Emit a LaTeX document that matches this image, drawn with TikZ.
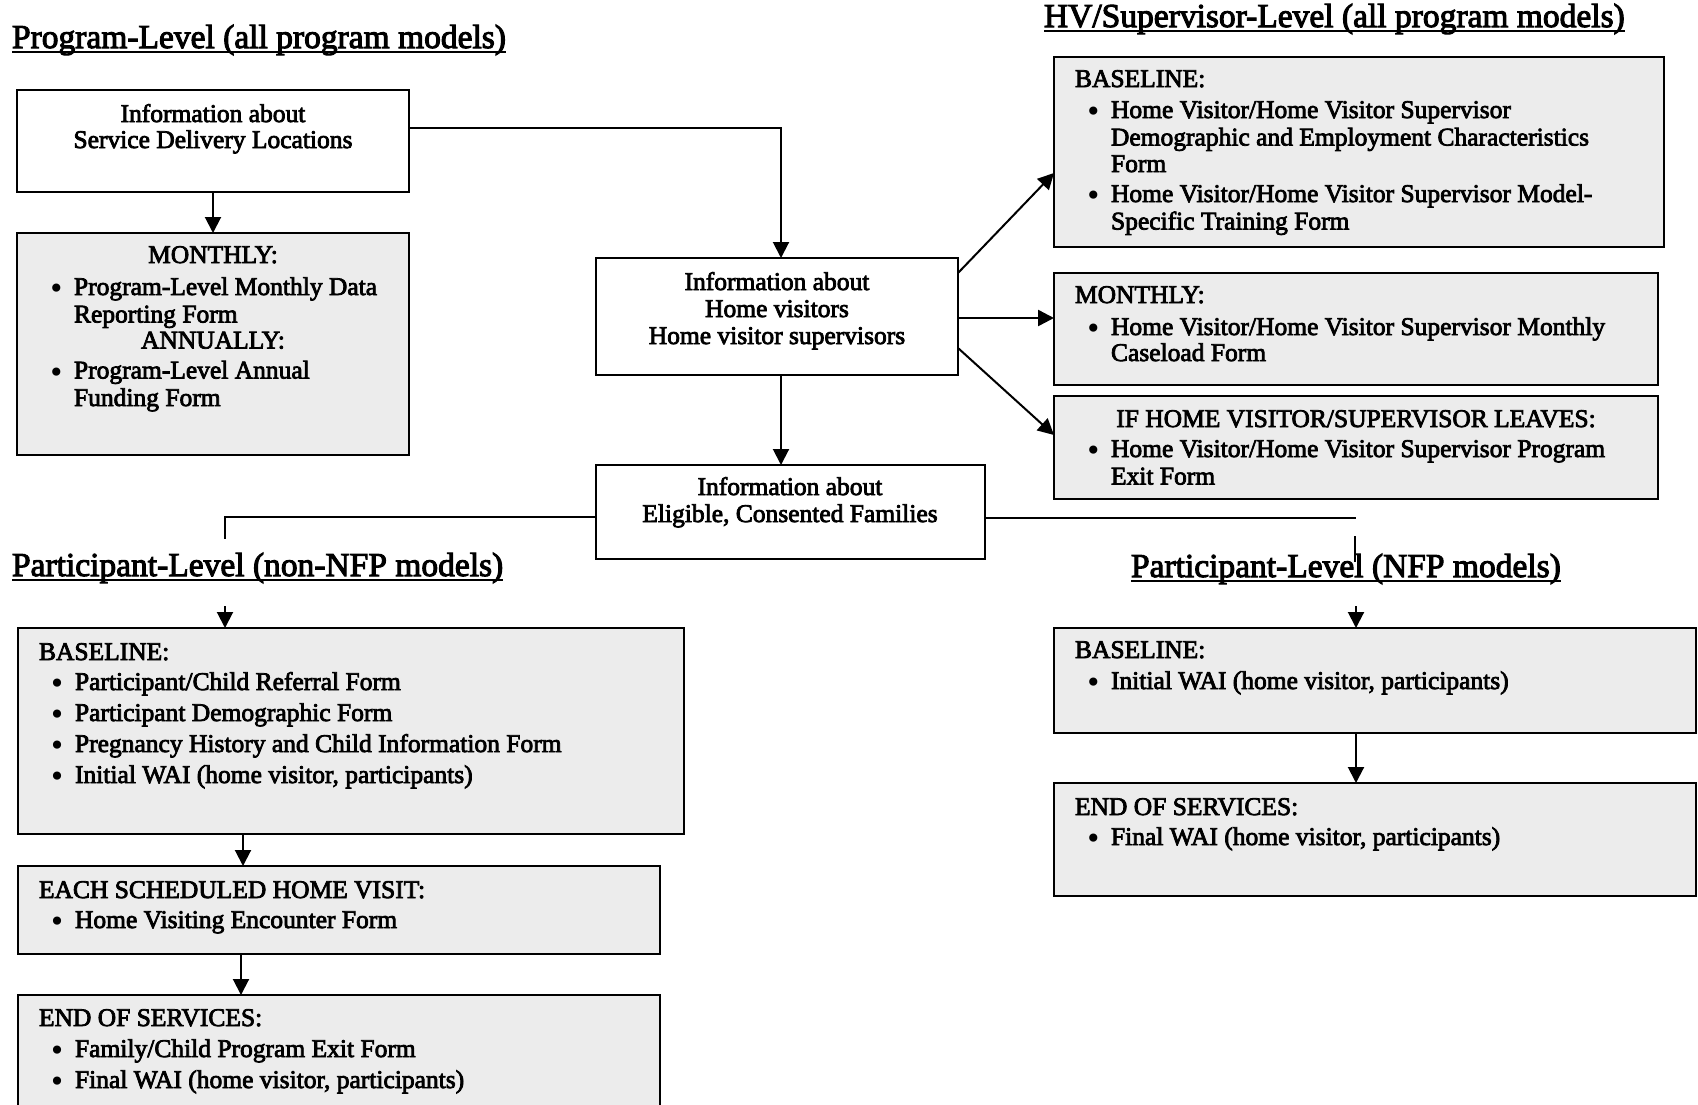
\documentclass[tikz,border=0pt]{standalone}
\usepackage{fontspec}
\setmainfont{Liberation Serif}[FakeBold=3]
\newfontfamily\bulfont{DejaVu Sans}
\usetikzlibrary{arrows.meta,calc}
\definecolor{boxgray}{RGB}{236,236,236}
\newcommand{\tl}{\hspace*{21pt}}
\newcommand{\bigbul}{\raisebox{-3.5pt}{\bulfont\fontsize{28}{28}\selectfont\char"2022}}
\newcommand{\bu}{\hspace*{31pt}\makebox[26pt][l]{\bigbul}}
\newcommand{\ct}{\hspace*{57pt}}
\newcommand{\tb}[2]{\parbox[t]{#1}{\raggedright\fontsize{25.5}{27.5}\selectfont #2}}
\newcommand{\tc}[2]{\parbox[t]{#1}{\centering\fontsize{25.5}{27}\selectfont #2}}
\tikzset{
  wbox/.style={draw=black, line width=2pt, fill=white, anchor=north west, inner sep=0pt, outer sep=0pt},
  gbox/.style={wbox, fill=boxgray},
  txt/.style={anchor=base west, inner sep=0pt, outer sep=0pt},
  ctxt/.style={anchor=base, inner sep=0pt, outer sep=0pt},
  ttl/.style={anchor=base west, inner sep=0pt, outer sep=0pt, font=\fontsize{33.5}{40}\selectfont},
  uline/.style={line width=2pt},
  conn/.style={line width=2pt, -{Triangle[length=16pt,width=16pt]}},
  plain/.style={line width=2pt},
}
\begin{document}
\begin{tikzpicture}[x=1pt,y=-1pt]
\useasboundingbox (0,0) rectangle (1698,1104);
\clip (0,0) rectangle (1698,1104);
\fill[white] (0,0) rectangle (1698,1104);

% titles
\node[ttl] (t1) at (12,48) {Program-Level (all program models)};
\node[ttl] (t2) at (1044,27) {HV/Supervisor-Level (all program models)};
\node[ttl] (t3) at (12,576) {Participant-Level (non-NFP models)};
\node[ttl] (t4) at (1131,577) {Participant-Level (NFP models)};
\foreach \t in {t1,t2,t3,t4}{
  \draw[uline] ($(\t.base west)+(0,4)$) -- ($(\t.base east)+(0,4)$);
}

% boxes
\node[wbox, minimum width=392pt, minimum height=102pt] (b1) at (17,90) {};
\node[gbox, minimum width=392pt, minimum height=222pt] (b2) at (17,233) {};
\node[wbox, minimum width=362pt, minimum height=117pt] (hv) at (596,258) {};
\node[wbox, minimum width=389pt, minimum height=94pt] (fam) at (596,465) {};
\node[gbox, minimum width=610pt, minimum height=190pt] (hvb) at (1054,57) {};
\node[gbox, minimum width=604pt, minimum height=112pt] (hvm) at (1054,273) {};
\node[gbox, minimum width=604pt, minimum height=103pt] (hvl) at (1054,396) {};
\node[gbox, minimum width=666pt, minimum height=206pt] (pb) at (18,628) {};
\node[gbox, minimum width=642pt, minimum height=88pt] (pv) at (18,866) {};
\node[gbox, minimum width=642pt, minimum height=140pt] (pe) at (18,995) {};
\node[gbox, minimum width=642pt, minimum height=105pt] (nb) at (1054,628) {};
\node[gbox, minimum width=642pt, minimum height=113pt] (ne) at (1054,783) {};

% texts
\node[ctxt] (b1t) at (213,122) {\tc{380pt}{Information about\\[-1pt]Service Delivery Locations}};
\node[txt] (b2t) at (17,263) {\tb{392pt}{\makebox[392pt][c]{MONTHLY:}\\[4.5pt]
\bu Program-Level Monthly Data\\
\ct Reporting Form\\[-1.5pt]
\makebox[392pt][c]{ANNUALLY:}\\[2.5pt]
\bu Program-Level Annual\\
\ct Funding Form}};
\node[ctxt] (hvt) at (777,290) {\tc{350pt}{Information about\\Home visitors\\Home visitor supervisors}};
\node[ctxt] (famt) at (790,495) {\tc{380pt}{Information about\\Eligible, Consented Families}};
\node[txt] (hvbt) at (1054,87) {\tb{610pt}{\tl BASELINE:\\[3.5pt]
\bu Home Visitor/Home Visitor Supervisor\\
\ct Demographic and Employment Characteristics\\[-1pt]
\ct Form\\[2.5pt]
\bu Home Visitor/Home Visitor Supervisor Model-\\
\ct Specific Training Form}};
\node[txt] (hvmt) at (1054,303) {\tb{604pt}{\tl MONTHLY:\\[4.5pt]
\bu Home Visitor/Home Visitor Supervisor Monthly\\[-1.5pt]
\ct Caseload Form}};
\node[txt] (hvlt) at (1054,427) {\tb{604pt}{\makebox[604pt][c]{IF HOME VISITOR/SUPERVISOR LEAVES:}\\[2.5pt]
\bu Home Visitor/Home Visitor Supervisor Program\\
\ct Exit Form}};
\node[txt] (pbt) at (18,660) {\tb{666pt}{\tl BASELINE:\\[2.5pt]
\bu Participant/Child Referral Form\\[3.5pt]
\bu Participant Demographic Form\\[3.5pt]
\bu Pregnancy History and Child Information Form\\[3.5pt]
\bu Initial WAI (home visitor, participants)}};
\node[txt] (pvt) at (18,898) {\tb{642pt}{\tl EACH SCHEDULED HOME VISIT:\\[2.5pt]
\bu Home Visiting Encounter Form}};
\node[txt] (pet) at (18,1026) {\tb{642pt}{\tl END OF SERVICES:\\[3.5pt]
\bu Family/Child Program Exit Form\\[3.5pt]
\bu Final WAI (home visitor, participants)}};
\node[txt] (nbt) at (1054,658) {\tb{642pt}{\tl BASELINE:\\[3.5pt]
\bu Initial WAI (home visitor, participants)}};
\node[txt] (net) at (1054,815) {\tb{642pt}{\tl END OF SERVICES:\\[2.5pt]
\bu Final WAI (home visitor, participants)}};

% connectors
\draw[conn] (b1.south) -- (b2.north);
\coordinate (c1) at (781,128);
\draw[conn] (b1.east |- c1) -- (c1) -- (hv.north -| c1);
\draw[conn] (hv.south -| c1) -- (fam.north -| c1);
\draw[conn] ($(hv.north east)+(0,15)$) -- ($(hvb.south west)+(0,-74)$);
\coordinate (m1) at ($(hv.north east)+(0,60)$);
\draw[conn, line width=2.5pt] (m1) -- (hvm.west |- m1);
\draw[conn] ($(hv.north east)+(0,90)$) -- ($(hvl.north west)+(0,39)$);

\coordinate (l1) at (225,517);
\coordinate (l2) at (225,539);
\draw[plain] (fam.west |- l1) -- (l1) -- (l2);
\coordinate (l3) at (225,606);
\draw[conn] (l3) -- (pb.north -| l3);
\coordinate (r1) at (1356,518);
\draw[plain] (fam.east |- r1) -- (r1);
\coordinate (r2) at (1355,536);
\coordinate (r3) at (1355,562);
\draw[line width=1.5pt] (r2) -- (r3);
\coordinate (r4) at (1356,606);
\draw[conn] (r4) -- (nb.north -| r4);
\draw[conn] (nb.south -| r4) -- (ne.north -| r4);
\coordinate (d1) at (243,850);
\draw[conn] (pb.south -| d1) -- (pv.north -| d1);
\coordinate (d2) at (241,975);
\draw[conn] (pv.south -| d2) -- (pe.north -| d2);
\end{tikzpicture}
\end{document}
